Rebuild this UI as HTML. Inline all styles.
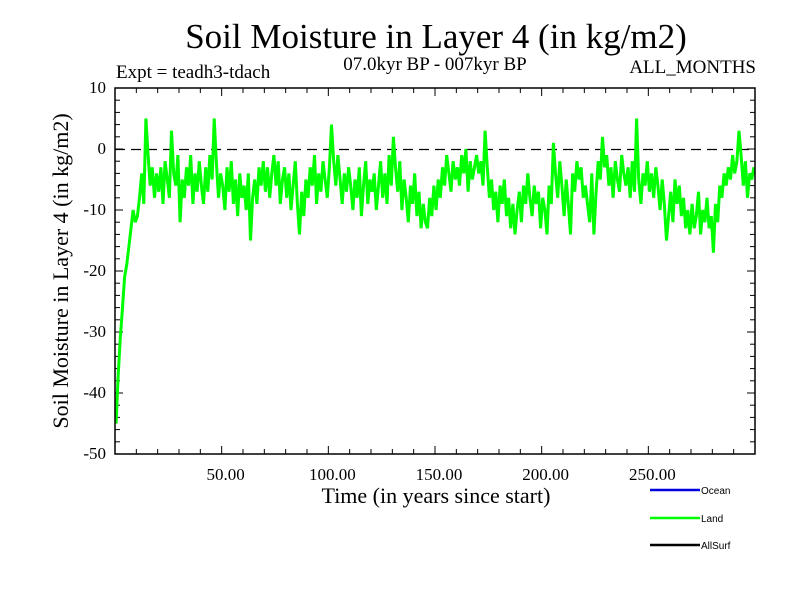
<!DOCTYPE html>
<html><head><meta charset="utf-8"><style>
body{margin:0;background:#fff}
svg{display:block}
.s{font-family:"Liberation Serif",serif;fill:#000}
.l{font-family:"Liberation Sans",sans-serif;font-size:10px;fill:#000}
</style></head><body>
<svg id="c" width="800" height="600">
<text class="s" x="436" y="48" font-size="35" text-anchor="middle">Soil Moisture in Layer 4 (in kg/m2)</text>
<text class="s" x="116" y="78" font-size="19">Expt = teadh3-tdach</text>
<text class="s" x="435" y="70" font-size="19" text-anchor="middle">07.0kyr BP - 007kyr BP</text>
<text class="s" x="756" y="73" font-size="19" text-anchor="end">ALL_MONTHS</text>
<text class="s" x="436" y="503" font-size="22" text-anchor="middle">Time (in years since start)</text>
<text class="s" transform="translate(68,271) rotate(-90)" font-size="22" text-anchor="middle">Soil Moisture in Layer 4 (in kg/m2)</text>
<g id="axes"></g>
<g id="series"></g>
<rect x="115" y="88" width="640" height="366" fill="none" stroke="#000" stroke-width="1.5"/>
<g>
<line x1="650" y1="490" x2="700" y2="490" stroke="#0000e0" stroke-width="2.5"/>
<text class="l" x="701" y="494">Ocean</text>
<line x1="650" y1="518" x2="700" y2="518" stroke="#00ff00" stroke-width="2.5"/>
<text class="l" x="701" y="522">Land</text>
<line x1="650" y1="545" x2="700" y2="545" stroke="#000" stroke-width="2.5"/>
<text class="l" x="701" y="549">AllSurf</text>
</g>
</svg>
<script>
const xTicks=[50,100,150,200,250];
const xTickLabels=["50.00","100.00","150.00","200.00","250.00"];
const yTicks=[10,0,-10,-20,-30,-40,-50];
const yTickLabels=["10","0","-10","-20","-30","-40","-50"];
const landValues=[
-45,-37,-31,-26,-21,-19,-16,-13,-10,-12,
-11,-8,-4,-9,5,-1,-6,-3,-8,-4,
-7,-3,-9,-2,-5,-8,3,-4,-6,-1,
-12,-5,-8,-3,-6,-1,-9,-4,-7,-2,
-6,-9,-3,-7,-1,-5,5,-2,-8,-4,
-6,-10,-3,-7,-2,-9,-5,-11,-4,-8,
-6,-10,-4,-15,-8,-5,-9,-3,-6,-2,
-7,-3,-8,-4,-1,-6,-2,-9,-5,-3,
-8,-4,-10,-6,-2,-9,-14,-7,-11,-5,
-8,-3,-6,-1,-9,-4,-7,-2,-5,-8,
-3,4,-2,-6,-1,-5,-9,-4,-7,-3,
-6,-10,-5,-8,-3,-11,-6,-2,-9,-5,
-7,-4,-10,-6,-2,-8,-4,-9,-1,-6,
2,-3,-7,-2,-10,-5,-8,-12,-6,-9,
-4,-11,-7,-13,-9,-12,-13,-8,-11,-6,
-10,-5,-8,-3,-6,-1,-4,-7,-2,-5,
-3,-6,-1,-4,0,-7,-2,-5,-3,-1,
-4,-2,-6,3,-3,-8,-5,-10,-7,-12,
-6,-9,-5,-11,-8,-13,-9,-14,-10,-7,
-12,-6,-9,-4,-8,-11,-6,-9,-7,-13,
-8,-10,-14,-6,-9,1,-4,-8,-2,-6,
-11,-5,-9,-14,-4,-7,-2,-5,-3,-8,
-6,-9,-12,-4,-14,-7,-2,-5,2,-3,
-1,-6,-3,-8,-2,-5,-7,-1,-4,-6,
-3,-8,-2,-7,5,-5,-9,-4,-6,-2,
-7,-4,-8,-3,-6,-10,-5,-9,-15,-11,
-7,-12,-5,-9,-6,-11,-8,-13,-10,-14,
-9,-13,-11,-7,-14,-10,-12,-8,-13,-11,
-17,-9,-12,-6,-8,-4,-6,-3,-5,-1,
-4,-2,3,-1,-6,-2,-8,-4,-5,-3];
const X0=115,X1=755,Y0=88,Y1=454;
const xs=t=>X0+(t/300)*(X1-X0);
const ys=v=>Y0+((10-v)/60)*(Y1-Y0);
const NS="http://www.w3.org/2000/svg";
const axes=document.getElementById('axes'),series=document.getElementById('series');
function mk(tag,attrs,parent){const e=document.createElementNS(NS,tag);for(const k in attrs)e.setAttribute(k,attrs[k]);parent.appendChild(e);return e;}
for(let t=10;t<300;t+=10){const major=t%50===0;const L=major?8:5;
const a=mk('line',{x1:xs(t),x2:xs(t),y1:Y1,y2:Y1-L,stroke:'#000'},axes);


const b=mk('line',{x1:xs(t),x2:xs(t),y1:Y0,y2:Y0+L,stroke:'#000'},axes);

}
for(let v=-48;v<10;v+=2){const major=v%10===0;const L=major?8:5;
const a=mk('line',{x1:X0,x2:X0+L,y1:ys(v),y2:ys(v),stroke:'#000'},axes);


const b=mk('line',{x1:X1,x2:X1-L,y1:ys(v),y2:ys(v),stroke:'#000'},axes);

}
xTicks.forEach((t,i)=>{const e=mk('text',{x:xs(t)+4,y:480,'text-anchor':'middle','font-size':'17',class:'s'},axes);e.textContent=xTickLabels[i];

});
yTicks.forEach((v,i)=>{const e=mk('text',{x:106,y:ys(v)+5,'text-anchor':'end','font-size':'17',class:'s'},axes);e.textContent=yTickLabels[i];

});
const z=mk('line',{x1:X0,x2:X1,y1:Math.round(ys(0))+0.5,y2:Math.round(ys(0))+0.5,stroke:'#000','stroke-width':'1.3','stroke-dasharray':'10,6'},series);


const pts=landValues.map((v,i)=>xs(i+0.5).toFixed(1)+','+ys(v).toFixed(1)).join(' ');
const pl=mk('polyline',{points:pts,fill:'none',stroke:'#00ff00','stroke-width':'3','stroke-linejoin':'miter','stroke-miterlimit':'3'},series);


</script>
</body></html>
